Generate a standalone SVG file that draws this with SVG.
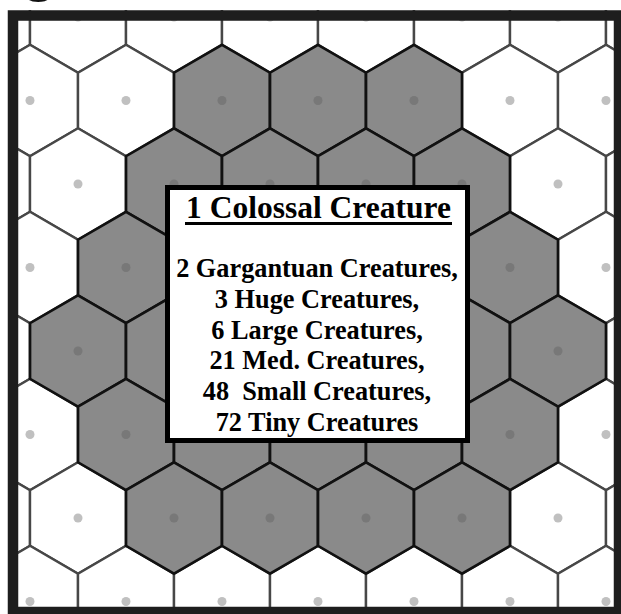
<svg xmlns="http://www.w3.org/2000/svg" xmlns:xlink="http://www.w3.org/1999/xlink" width="621" height="614" viewBox="0 0 621 614">
<style>
.w{fill:#ffffff;stroke:#474747;stroke-width:2.4}
.k{fill:#8a8a8a;stroke:#111111;stroke-width:2.7}
.dw{fill:#c0c0c0}
.dk{fill:#787878}
.t{font-family:"Liberation Serif","Times New Roman",serif;font-weight:bold;fill:#000;text-anchor:middle}
</style>
<defs>
<polygon id="hex" points="0,-55.67 48,-27.83 48,27.83 0,55.67 -48,27.83 -48,-27.83"/>
<clipPath id="clip"><rect x="8" y="10" width="613" height="604"/></clipPath>
</defs>
<rect width="621" height="614" fill="#fff"/>
<text x="20" y="-11" font-family="Liberation Sans, Arial, sans-serif" font-weight="bold" font-size="62" fill="#111">g</text>
<g id="hex-grid" clip-path="url(#clip)">
<g id="white-hexes" class="w">
<use xlink:href="#hex" x="-18" y="17"/><use xlink:href="#hex" x="78" y="17"/><use xlink:href="#hex" x="174" y="17"/><use xlink:href="#hex" x="270" y="17"/><use xlink:href="#hex" x="366" y="17"/><use xlink:href="#hex" x="462" y="17"/><use xlink:href="#hex" x="558" y="17"/><use xlink:href="#hex" x="654" y="17"/>
<use xlink:href="#hex" x="30" y="100.5"/><use xlink:href="#hex" x="126" y="100.5"/><use xlink:href="#hex" x="510" y="100.5"/><use xlink:href="#hex" x="606" y="100.5"/>
<use xlink:href="#hex" x="-18" y="184"/><use xlink:href="#hex" x="78" y="184"/><use xlink:href="#hex" x="558" y="184"/><use xlink:href="#hex" x="654" y="184"/>
<use xlink:href="#hex" x="30" y="267.5"/><use xlink:href="#hex" x="606" y="267.5"/>
<use xlink:href="#hex" x="-18" y="351"/><use xlink:href="#hex" x="654" y="351"/>
<use xlink:href="#hex" x="30" y="434.5"/><use xlink:href="#hex" x="606" y="434.5"/>
<use xlink:href="#hex" x="-18" y="518"/><use xlink:href="#hex" x="78" y="518"/><use xlink:href="#hex" x="558" y="518"/><use xlink:href="#hex" x="654" y="518"/>
<use xlink:href="#hex" x="30" y="601.5"/><use xlink:href="#hex" x="126" y="601.5"/><use xlink:href="#hex" x="222" y="601.5"/><use xlink:href="#hex" x="318" y="601.5"/><use xlink:href="#hex" x="414" y="601.5"/><use xlink:href="#hex" x="510" y="601.5"/><use xlink:href="#hex" x="606" y="601.5"/>
</g>
<g id="colossal-area" class="k">
<use xlink:href="#hex" x="222" y="100.5"/><use xlink:href="#hex" x="318" y="100.5"/><use xlink:href="#hex" x="414" y="100.5"/>
<use xlink:href="#hex" x="174" y="184"/><use xlink:href="#hex" x="270" y="184"/><use xlink:href="#hex" x="366" y="184"/><use xlink:href="#hex" x="462" y="184"/>
<use xlink:href="#hex" x="126" y="267.5"/><use xlink:href="#hex" x="222" y="267.5"/><use xlink:href="#hex" x="318" y="267.5"/><use xlink:href="#hex" x="414" y="267.5"/><use xlink:href="#hex" x="510" y="267.5"/>
<use xlink:href="#hex" x="78" y="351"/><use xlink:href="#hex" x="174" y="351"/><use xlink:href="#hex" x="270" y="351"/><use xlink:href="#hex" x="366" y="351"/><use xlink:href="#hex" x="462" y="351"/><use xlink:href="#hex" x="558" y="351"/>
<use xlink:href="#hex" x="126" y="434.5"/><use xlink:href="#hex" x="222" y="434.5"/><use xlink:href="#hex" x="318" y="434.5"/><use xlink:href="#hex" x="414" y="434.5"/><use xlink:href="#hex" x="510" y="434.5"/>
<use xlink:href="#hex" x="174" y="518"/><use xlink:href="#hex" x="270" y="518"/><use xlink:href="#hex" x="366" y="518"/><use xlink:href="#hex" x="462" y="518"/>
</g>
<g id="white-dots" class="dw">
<circle cx="78" cy="17" r="4.5"/><circle cx="174" cy="17" r="4.5"/><circle cx="270" cy="17" r="4.5"/><circle cx="366" cy="17" r="4.5"/><circle cx="462" cy="17" r="4.5"/><circle cx="558" cy="17" r="4.5"/>
<circle cx="30" cy="100.5" r="4.5"/><circle cx="126" cy="100.5" r="4.5"/><circle cx="510" cy="100.5" r="4.5"/><circle cx="606" cy="100.5" r="4.5"/>
<circle cx="78" cy="184" r="4.5"/><circle cx="558" cy="184" r="4.5"/>
<circle cx="30" cy="267.5" r="4.5"/><circle cx="606" cy="267.5" r="4.5"/>
<circle cx="30" cy="434.5" r="4.5"/><circle cx="606" cy="434.5" r="4.5"/>
<circle cx="78" cy="518" r="4.5"/><circle cx="558" cy="518" r="4.5"/>
<circle cx="30" cy="601.5" r="4.5"/><circle cx="126" cy="601.5" r="4.5"/><circle cx="222" cy="601.5" r="4.5"/><circle cx="318" cy="601.5" r="4.5"/><circle cx="414" cy="601.5" r="4.5"/><circle cx="510" cy="601.5" r="4.5"/><circle cx="606" cy="601.5" r="4.5"/>
</g>
<g id="gray-dots" class="dk">
<circle cx="222" cy="100.5" r="4.5"/><circle cx="318" cy="100.5" r="4.5"/><circle cx="414" cy="100.5" r="4.5"/>
<circle cx="174" cy="184" r="4.5"/><circle cx="270" cy="184" r="4.5"/><circle cx="366" cy="184" r="4.5"/><circle cx="462" cy="184" r="4.5"/>
<circle cx="126" cy="267.5" r="4.5"/><circle cx="510" cy="267.5" r="4.5"/>
<circle cx="78" cy="351" r="4.5"/><circle cx="558" cy="351" r="4.5"/>
<circle cx="126" cy="434.5" r="4.5"/><circle cx="510" cy="434.5" r="4.5"/>
<circle cx="174" cy="518" r="4.5"/><circle cx="270" cy="518" r="4.5"/><circle cx="366" cy="518" r="4.5"/><circle cx="462" cy="518" r="4.5"/>
</g>
</g>
<rect id="frame" x="13" y="15.5" width="606" height="596.5" fill="none" stroke="#1e1e1e" stroke-width="10.5"/>
<g id="label-box">
<rect x="167.5" y="187.5" width="300" height="253" fill="#fff" stroke="#000" stroke-width="5"/>
<text class="t" x="318.5" y="218" font-size="31.5">1 Colossal Creature</text>
<line x1="185" y1="223.5" x2="452" y2="223.5" stroke="#000" stroke-width="3"/>
<text class="t" x="317" y="277" font-size="26.3">2 Gargantuan Creatures,</text>
<text class="t" x="317" y="308" font-size="26.3">3 Huge Creatures,</text>
<text class="t" x="317" y="339" font-size="26.3">6 Large Creatures,</text>
<text class="t" x="317" y="369" font-size="26.3">21 Med. Creatures,</text>
<text class="t" x="317" y="400" font-size="26.3" xml:space="preserve">48  Small Creatures,</text>
<text class="t" x="317" y="431" font-size="26.3">72 Tiny Creatures</text>
</g>
</svg>
